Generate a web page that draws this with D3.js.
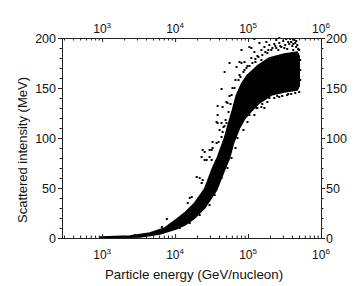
<!DOCTYPE html>
<html>
<head>
<meta charset="utf-8">
<script src="https://cdn.jsdelivr.net/npm/d3@7"></script>
<style>
  body { margin: 0; background: #fff; }
  text { font-family: "Liberation Sans", Arial, sans-serif; fill: #111; }
</style>
</head>
<body>
<div id="chart"></div>
<script>
// dense core of the cloud (energy in GeV/nucleon, intensity in MeV)
const bandUpperE = [940, 2410, 4520, 7230, 10230, 13550, 18580, 25410, 32660, 38280, 47640, 52360, 61240, 69500, 81280, 98170, 134300, 195900, 314100, 472100, 502300];
const bandUpperI = [1, 2, 5, 10, 18, 25, 35, 49, 70, 81, 100, 111, 128, 143, 154, 163, 172, 180, 184, 186, 182];
const bandLowerE = [502300, 472100, 314100, 208400, 143200, 111200, 89330, 76380, 63240, 55720, 47640, 37070, 25410, 18580, 13550, 10230, 6180, 3300, 940];
const bandLowerI = [152, 148, 146, 143, 135, 127, 119, 110, 95, 80, 68, 48, 30, 20, 13, 9, 4, 1, 0];

// scattered single points
const dotE = [38280, 44770, 38280, 38280, 43350, 46130, 40740, 43350, 39450, 37070, 31700, 25410, 23120, 27040, 32660,
  19770, 21730, 23880, 23120, 15890, 16900, 14890, 7710, 6590, 2820, 43350, 47640, 55720, 76380, 81280,
  104400, 111200, 122200, 143200, 178200, 243800, 267900, 334200, 390800, 429500, 457100, 472100, 243800, 294400, 195900,
  152400, 130300, 104400, 52360, 37070, 50700, 44770, 29720, 31700, 69500, 81280, 89330, 32660, 23880, 29720,
  25410, 122200, 134300, 152400, 167500, 184000, 195900, 208400, 229000, 243800, 267900, 285700, 304100, 323600, 344400,
  367300, 378400, 403600, 415900, 443600, 472100, 487500, 152400, 126200, 111200, 98170, 89330, 76380, 67300, 61240,
  55720, 50700, 167500, 184000, 229000, 267900, 344400, 390800, 443600, 502300, 122200, 98170, 86500, 71600, 67300,
  59400, 52360, 43350, 34800, 29720, 21730, 15890, 11580,
  86500, 95100, 104400, 114800, 126200, 138700, 157000, 172600, 189700, 215300, 236600, 260000, 276700, 314100, 355600,
  415900, 457100, 502300, 74000, 78700, 65310, 59400, 57500, 54100, 49200, 47640, 518800, 518800, 518800, 134300,
  157000, 355600, 251800];
const dotI = [132, 131, 123, 115, 115, 111, 108, 101, 96, 95, 88, 86, 81, 78, 90,
  61, 60, 58, 55, 40, 41, 35, 19, 11, 3, 149, 166, 175, 176, 188,
  191, 190, 199, 195, 196, 198, 200, 199, 196, 198, 191, 153, 145, 142, 140,
  131, 130, 123, 135, 116, 115, 106, 81, 78, 171, 175, 176, 96, 88, 88,
  78, 186, 182, 188, 191, 185, 193, 188, 194, 190, 195, 191, 197, 193, 189,
  194, 199, 192, 188, 195, 193, 189, 178, 176, 180, 172, 168, 163, 158, 150,
  142, 136, 130, 136, 140, 141, 143, 144, 145, 146, 123, 116, 108, 100, 90,
  80, 70, 60, 43, 33, 23, 15, 10,
  166, 170, 172, 175, 179, 181, 183, 186, 188, 190, 192, 188, 192, 190, 196,
  194, 197, 188, 158, 161, 150, 143, 134, 126, 118, 112, 178, 168, 158, 130,
  134, 144, 142];

const xDecades = [1e3, 1e4, 1e5, 1e6];
const xExponents = ["3", "4", "5", "6"];
const yTicks = [0, 50, 100, 150, 200];

const width = 359, height = 286;
const margin = { top: 38, right: 38, bottom: 48, left: 62 };
const innerW = width - margin.left - margin.right;
const innerH = height - margin.top - margin.bottom;

const x = d3.scaleLog().domain([Math.pow(10, 2.45), 1e6]).range([0, innerW]);
const y = d3.scaleLinear().domain([0, 200]).range([innerH, 0]);

const svg = d3.select("#chart").append("svg")
  .attr("width", width).attr("height", height);
const g = svg.append("g").attr("transform", `translate(${margin.left},${margin.top})`);

// minor ticks for the log axis: 2..9 of every decade
const xMinor = [];
[1e2, 1e3, 1e4, 1e5].forEach(d => { for (let k = 2; k <= 9; k++) { const v = d * k; if (v >= x.domain()[0] && v <= 1e6) xMinor.push(v); } });
const yMinor = d3.range(0, 201, 10).filter(v => v % 50 !== 0);

// data: the dense core as a filled shape, then the single dots
const bandPts = bandUpperE.map((e, i) => [e, bandUpperI[i]])
  .concat(bandLowerE.map((e, i) => [e, bandLowerI[i]]));
g.append("path")
  .datum(bandPts)
  .attr("d", d3.line().x(d => x(d[0])).y(d => y(d[1])).curve(d3.curveLinearClosed))
  .attr("fill", "#000")
  .attr("stroke", "#000")
  .attr("stroke-width", 1.6)
  .attr("stroke-linejoin", "round");

g.append("g").selectAll("rect")
  .data(dotE.map((e, i) => [e, dotI[i]]))
  .join("rect")
  .attr("x", d => x(d[0]) - 1)
  .attr("y", d => y(d[1]) - 1)
  .attr("width", 2)
  .attr("height", 2)
  .attr("fill", "#000");

// axes (x ticks point inward, y ticks point outward)
function styleAxis(sel) {
  sel.select(".domain").attr("stroke", "#222").attr("stroke-width", 1);
  sel.selectAll(".tick line").attr("stroke", "#222");
}
const noLabel = () => "";

g.append("g").attr("transform", `translate(0,${innerH})`)
  .call(d3.axisBottom(x).tickValues(xDecades).tickSizeInner(-4).tickSizeOuter(0).tickFormat(noLabel)).call(styleAxis);
g.append("g").attr("transform", `translate(0,${innerH})`)
  .call(d3.axisBottom(x).tickValues(xMinor).tickSizeInner(-2.5).tickSizeOuter(0).tickFormat(noLabel)).call(styleAxis);
g.append("g")
  .call(d3.axisTop(x).tickValues(xDecades).tickSizeInner(-4).tickSizeOuter(0).tickFormat(noLabel)).call(styleAxis);
g.append("g")
  .call(d3.axisTop(x).tickValues(xMinor).tickSizeInner(-2.5).tickSizeOuter(0).tickFormat(noLabel)).call(styleAxis);

g.append("g")
  .call(d3.axisLeft(y).tickValues(yTicks).tickSizeInner(4).tickSizeOuter(0).tickFormat(noLabel)).call(styleAxis);
g.append("g")
  .call(d3.axisLeft(y).tickValues(yMinor).tickSizeInner(2.5).tickSizeOuter(0).tickFormat(noLabel)).call(styleAxis);
g.append("g").attr("transform", `translate(${innerW},0)`)
  .call(d3.axisRight(y).tickValues(yTicks).tickSizeInner(4).tickSizeOuter(0).tickFormat(noLabel)).call(styleAxis);
g.append("g").attr("transform", `translate(${innerW},0)`)
  .call(d3.axisRight(y).tickValues(yMinor).tickSizeInner(2.5).tickSizeOuter(0).tickFormat(noLabel)).call(styleAxis);

// tick labels
function powerLabel(sel, yPos) {
  sel.selectAll("text.pw")
    .data(xDecades)
    .join("text")
    .attr("x", d => x(d))
    .attr("y", yPos)
    .attr("text-anchor", "middle")
    .attr("font-size", 12)
    .each(function (d, i) {
      const t = d3.select(this);
      t.append("tspan").text("10");
      t.append("tspan").attr("dy", -5).attr("font-size", 8).text(xExponents[i]);
    });
}
g.append("g").call(powerLabel, innerH + 21);
g.append("g").call(powerLabel, -5);

g.append("g").selectAll("text")
  .data(yTicks).join("text")
  .attr("x", -6).attr("y", d => y(d)).attr("dy", "0.36em")
  .attr("text-anchor", "end").attr("font-size", 12.5)
  .text(d => d);
g.append("g").selectAll("text")
  .data(yTicks).join("text")
  .attr("x", innerW + 5).attr("y", d => y(d)).attr("dy", "0.36em")
  .attr("text-anchor", "start").attr("font-size", 12.5)
  .text(d => d);

// axis titles
g.append("text")
  .attr("x", 132).attr("y", innerH + 41)
  .attr("text-anchor", "middle").attr("font-size", 13.3)
  .text("Particle energy (GeV/nucleon)");
g.append("text")
  .attr("transform", `translate(-35,112) rotate(-90)`)
  .attr("text-anchor", "middle").attr("font-size", 13)
  .text("Scattered intensity (MeV)");
</script>
</body>
</html>
